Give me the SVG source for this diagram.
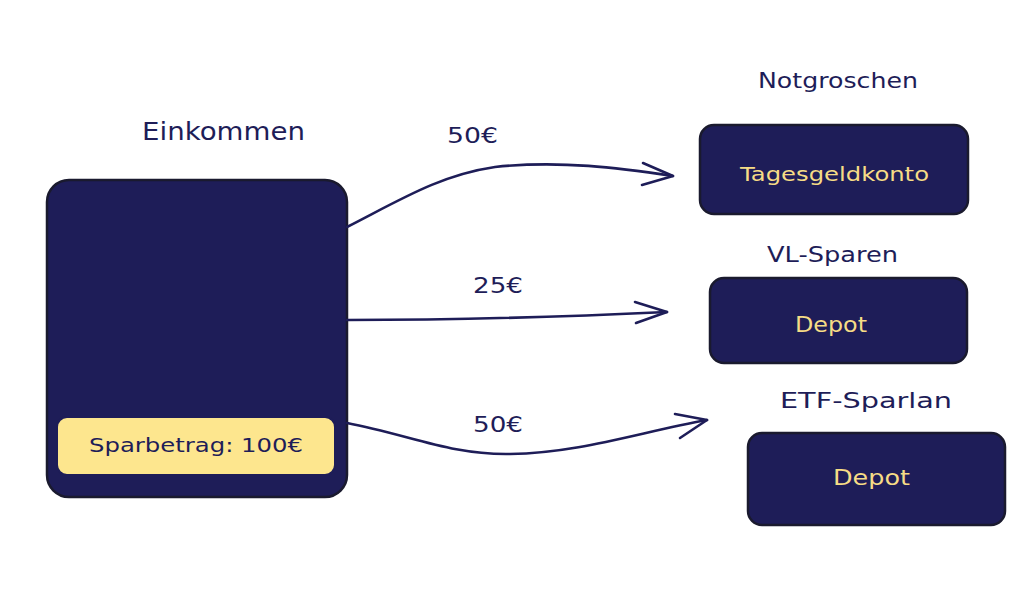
<svg xmlns="http://www.w3.org/2000/svg" width="1024" height="593" viewBox="0 0 1024 593">
<style>
.box{fill:#1e1d58;stroke:#1a1a2e;stroke-width:2.5}
.ybox{fill:#fde68e;stroke:#1e1d58;stroke-width:2}
.t{font-family:"DejaVu Sans","Liberation Sans",sans-serif;fill:#1e1d58;text-anchor:start}
.ty{font-family:"DejaVu Sans","Liberation Sans",sans-serif;fill:#f6dc86;text-anchor:start}
.c{fill:none;stroke:#1e1d58;stroke-width:2.6;stroke-linecap:round;stroke-linejoin:round}
</style>
<rect width="1024" height="593" fill="#ffffff"/>
<g id="einkommen">
<text class="t" x="142" y="140" font-size="24" textLength="163" lengthAdjust="spacingAndGlyphs">Einkommen</text>
<rect class="box" x="47" y="180" width="300" height="317" rx="22"/>
<rect class="ybox" x="57" y="417" width="278" height="58" rx="10"/>
<text class="t" x="89" y="452" font-size="20" textLength="214" lengthAdjust="spacingAndGlyphs" fill="#1e1d58">Sparbetrag: 100€</text>
</g>
<g id="notgroschen">
<text class="t" x="758" y="88" font-size="22" textLength="160" lengthAdjust="spacingAndGlyphs">Notgroschen</text>
<rect class="box" x="700" y="125" width="268" height="89" rx="14"/>
<text class="ty" x="740" y="181" font-size="20" textLength="189" lengthAdjust="spacingAndGlyphs">Tagesgeldkonto</text>
</g>
<g id="vl-sparen">
<text class="t" x="767" y="262" font-size="22" textLength="131" lengthAdjust="spacingAndGlyphs">VL-Sparen</text>
<rect class="box" x="710" y="278" width="257" height="85" rx="14"/>
<text class="ty" x="795" y="332" font-size="21" textLength="72" lengthAdjust="spacingAndGlyphs">Depot</text>
</g>
<g id="etf-sparplan">
<text class="t" x="780" y="408" font-size="22" textLength="172" lengthAdjust="spacingAndGlyphs">ETF-Sparlan</text>
<rect class="box" x="748" y="433" width="257" height="92" rx="14"/>
<text class="ty" x="833" y="485" font-size="21" textLength="77" lengthAdjust="spacingAndGlyphs">Depot</text>
</g>
<g id="connectors">
<path class="c" d="M347 227 C 400 200, 440 175, 495 167 C 560 160, 620 168, 673 176"/>
<path class="c" d="M643 163 L673 176 L642 185"/>
<text class="t" x="447" y="143" font-size="22" textLength="51" lengthAdjust="spacingAndGlyphs">50€</text>
<path class="c" d="M347 320 C 450 320, 560 317, 667 312"/>
<path class="c" d="M635 302 L667 312 L636 323"/>
<text class="t" x="473" y="293" font-size="22" textLength="50" lengthAdjust="spacingAndGlyphs">25€</text>
<path class="c" d="M347 423 C 410 435, 450 455, 510 454 C 580 453, 640 432, 707 420"/>
<path class="c" d="M675 414 L707 420 L680 438"/>
<text class="t" x="473" y="432" font-size="22" textLength="50" lengthAdjust="spacingAndGlyphs">50€</text>
</g>
</svg>
